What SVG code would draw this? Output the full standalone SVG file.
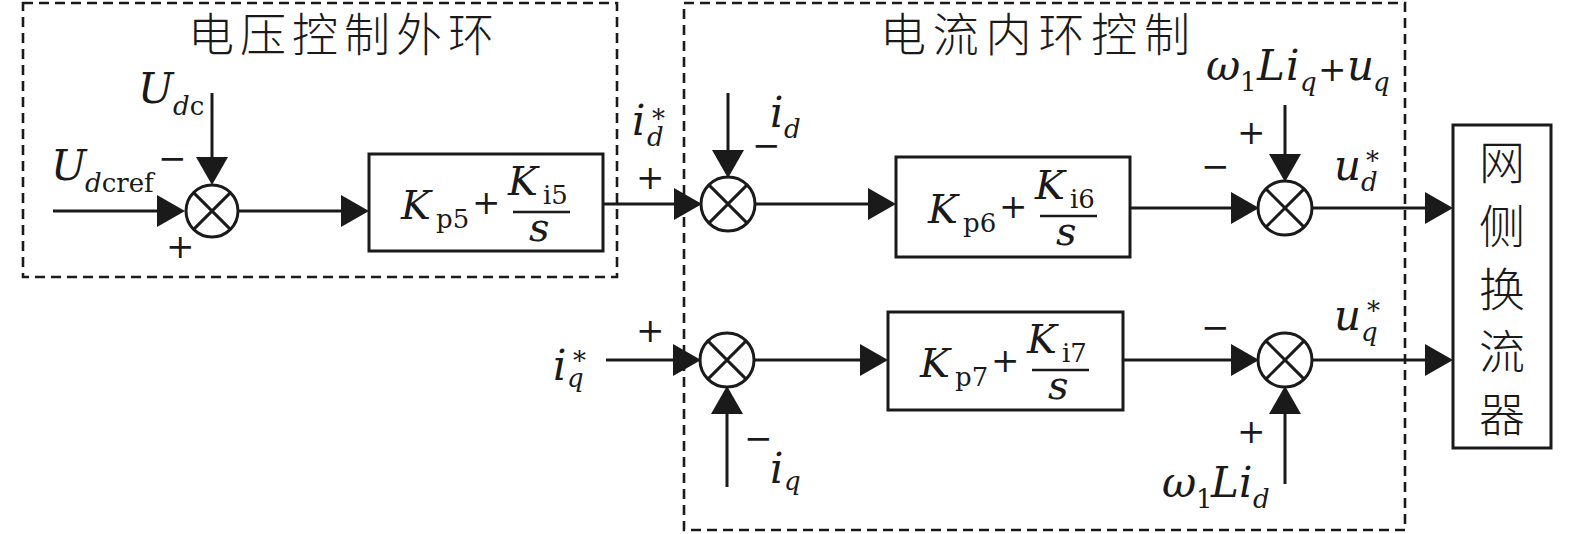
<svg xmlns="http://www.w3.org/2000/svg" width="1575" height="534" viewBox="0 0 1575 534">
<style>
.bg{fill:#fff}
.ln{fill:none;stroke:#1a1a1a;stroke-width:3;marker-end:url(#ah)}
.box{fill:#fff;stroke:#1a1a1a;stroke-width:3}
.dash{fill:none;stroke:#1a1a1a;stroke-width:2.6;stroke-dasharray:10 6}
.sum{fill:#fff;stroke:#1a1a1a;stroke-width:3}
.x{stroke:#1a1a1a;stroke-width:3}
.bar{stroke:#1a1a1a;stroke-width:2.5}
text{fill:#1a1a1a;font-family:"DejaVu Serif","Liberation Serif",serif}
.m{font-style:italic;font-size:42px}
.k{font-style:italic;font-size:40px}
.sb{font-size:26px;font-style:normal}
.it{font-style:italic}
.op{font-size:34px;font-style:normal}
.cjk{font-family:"Noto Sans CJK SC","Noto Sans CJK TC",sans-serif;font-size:46px;font-weight:300}
</style>
<defs>
<marker id="ah" markerUnits="userSpaceOnUse" markerWidth="30" markerHeight="34" viewBox="0 0 30 34" refX="22" refY="17" orient="auto">
<path d="M0,1 L28,17 L0,33 z" fill="#1a1a1a"/>
</marker>
</defs>
<rect class="bg" x="0" y="0" width="1575" height="534"/>

<g id="outer-loop-frame">
<rect class="dash" x="23" y="3" width="594" height="274"/>
<text class="cjk" x="188" y="51" textLength="306" lengthAdjust="spacing">电压控制外环</text>
</g>
<g id="inner-loop-frame">
<rect class="dash" x="684" y="3" width="721" height="527"/>
<text class="cjk" x="880" y="51" textLength="310" lengthAdjust="spacing">电流内环控制</text>
</g>

<g id="connectors">
<path class="ln" d="M53,211 H179"/>
<path class="ln" d="M212,93 V179"/>
<path class="ln" d="M238,211 H363"/>
<path class="ln" d="M603,204 H696"/>
<path class="ln" d="M728,93 V172"/>
<path class="ln" d="M754,204 H890"/>
<path class="ln" d="M1130,208 H1253"/>
<path class="ln" d="M1285,105 V176"/>
<path class="ln" d="M1311,208 H1447"/>
<path class="ln" d="M606,360 H695"/>
<path class="ln" d="M727,487 V392"/>
<path class="ln" d="M753,360 H882"/>
<path class="ln" d="M1123,360 H1253"/>
<path class="ln" d="M1285,484 V392"/>
<path class="ln" d="M1311,360 H1447"/>
</g>

<g id="sum1">
<circle class="sum" cx="212" cy="211" r="26"/>
<path class="x" d="M193.6,192.6 L230.4,229.4 M230.4,192.6 L193.6,229.4"/>
<text class="m" x="138" y="103">U<tspan class="sb it" x="173" y="115">d</tspan><tspan class="sb">c</tspan></text>
<text class="m" x="51" y="180">U<tspan class="sb it" x="85" y="192">d</tspan><tspan class="sb">cref</tspan></text>
<text class="op" x="158" y="170">−</text>
<text class="op" x="166" y="258">+</text>
</g>

<g id="pi5">
<rect class="box" x="369" y="154" width="234" height="97"/>
<text class="k" x="401" y="219">K<tspan class="sb" x="436" y="228">p5</tspan></text>
<text class="op" x="472" y="214">+</text>
<text class="k" x="508" y="195">K<tspan class="sb" x="543" y="204">i5</tspan></text>
<line class="bar" x1="513" y1="212" x2="570" y2="212"/>
<text class="k" x="529" y="241">s</text>
</g>

<g id="sum2">
<circle class="sum" cx="728" cy="204" r="27"/>
<path class="x" d="M708.9,184.9 L747.1,223.1 M747.1,184.9 L708.9,223.1"/>
<text class="m" x="632" y="135">i<tspan class="sb" x="652" y="128">*</tspan><tspan class="sb it" x="647" y="146">d</tspan></text>
<text class="op" x="636" y="189">+</text>
<text class="op" x="752" y="157">−</text>
<text class="m" x="770" y="127">i<tspan class="sb it" x="784" y="138">d</tspan></text>
</g>

<g id="pi6">
<rect class="box" x="896" y="157" width="234" height="100"/>
<text class="k" x="928" y="223">K<tspan class="sb" x="963" y="232">p6</tspan></text>
<text class="op" x="999" y="218">+</text>
<text class="k" x="1035" y="199">K<tspan class="sb" x="1070" y="208">i6</tspan></text>
<line class="bar" x1="1040" y1="216" x2="1097" y2="216"/>
<text class="k" x="1056" y="245">s</text>
</g>

<g id="sum3">
<circle class="sum" cx="1285" cy="208" r="27"/>
<path class="x" d="M1265.9,188.9 L1304.1,227.1 M1304.1,188.9 L1265.9,227.1"/>
<text class="m" x="1206" y="80">ω<tspan class="sb" x="1240" y="91">1</tspan><tspan class="m" x="1257" y="80">L</tspan><tspan class="m" x="1286" y="80">i</tspan><tspan class="sb it" x="1300" y="91">q</tspan><tspan class="op" x="1318" y="81">+</tspan><tspan class="m" x="1347" y="80">u</tspan><tspan class="sb it" x="1373" y="91">q</tspan></text>
<text class="op" x="1237" y="144">+</text>
<text class="op" x="1201" y="178">−</text>
<text class="m" x="1334" y="180">u<tspan class="sb" x="1366" y="170">*</tspan><tspan class="sb it" x="1361" y="191">d</tspan></text>
</g>

<g id="converter">
<rect class="box" x="1453" y="125" width="98" height="323"/>
<text class="cjk" x="1502" y="179" text-anchor="middle">网</text>
<text class="cjk" x="1502" y="243" text-anchor="middle">侧</text>
<text class="cjk" x="1502" y="306" text-anchor="middle">换</text>
<text class="cjk" x="1502" y="368" text-anchor="middle">流</text>
<text class="cjk" x="1502" y="431" text-anchor="middle">器</text>
</g>

<g id="sum4">
<circle class="sum" cx="727" cy="360" r="27"/>
<path class="x" d="M707.9,340.9 L746.1,379.1 M746.1,340.9 L707.9,379.1"/>
<text class="m" x="553" y="380">i<tspan class="sb" x="573" y="370">*</tspan><tspan class="sb it" x="567" y="387">q</tspan></text>
<text class="op" x="636" y="342">+</text>
<text class="op" x="744" y="450">−</text>
<text class="m" x="770" y="483">i<tspan class="sb it" x="784" y="490">q</tspan></text>
</g>

<g id="pi7">
<rect class="box" x="888" y="312" width="235" height="98"/>
<text class="k" x="920" y="377">K<tspan class="sb" x="955" y="386">p7</tspan></text>
<text class="op" x="991" y="372">+</text>
<text class="k" x="1027" y="353">K<tspan class="sb" x="1062" y="362">i7</tspan></text>
<line class="bar" x1="1032" y1="370" x2="1089" y2="370"/>
<text class="k" x="1048" y="399">s</text>
</g>

<g id="sum5">
<circle class="sum" cx="1285" cy="360" r="27"/>
<path class="x" d="M1265.9,340.9 L1304.1,379.1 M1304.1,340.9 L1265.9,379.1"/>
<text class="op" x="1201" y="339">−</text>
<text class="m" x="1334" y="330">u<tspan class="sb" x="1367" y="320">*</tspan><tspan class="sb it" x="1361" y="341">q</tspan></text>
<text class="op" x="1237" y="443">+</text>
<text class="m" x="1162" y="497">ω<tspan class="sb" x="1196" y="508">1</tspan><tspan class="m" x="1211" y="497">L</tspan><tspan class="m" x="1239" y="497">i</tspan><tspan class="sb it" x="1253" y="508">d</tspan></text>
</g>
</svg>
